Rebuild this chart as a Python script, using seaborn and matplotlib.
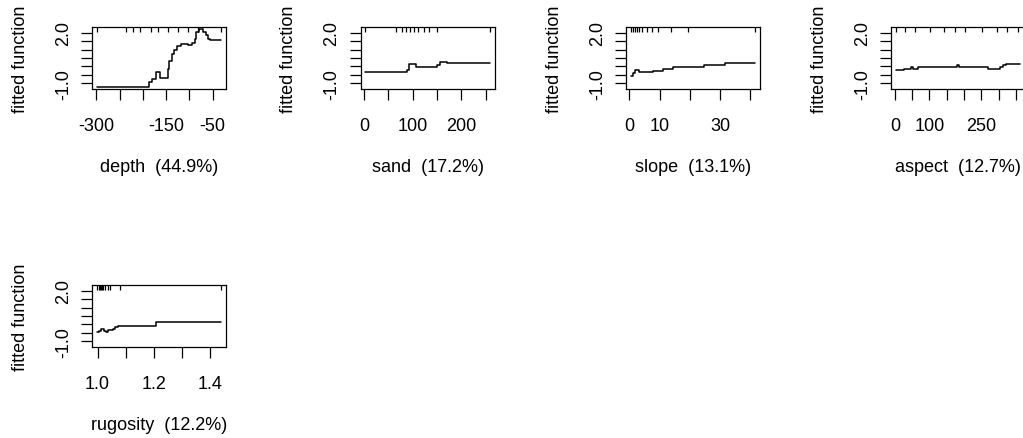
import matplotlib
matplotlib.use("Agg")
import matplotlib.pyplot as plt
import seaborn as sns
import pandas as pd

# ---------------- data ----------------
y_ticks = [-1.0, -0.5, 0.0, 0.5, 1.0, 1.5, 2.0]
y_tick_labels = ["-1.0", "", "", "", "", "", "2.0"]

depth_x = [-299, -188, -181, -172, -163, -147, -143, -138, -133, -127, -119,
           -110, -104, -95, -89, -85, -80, -70, -64, -59, -55, -32]
depth_y = [-1.2, -0.95, -0.75, -0.3, -0.7, -0.15, 0.35, 0.75, 0.95, 1.2, 1.3,
           1.35, 1.25, 1.4, 1.65, 2.05, 2.2, 2.05, 1.85, 1.65, 1.55, 1.55]
depth_rug = [-299, -236, -221, -207, -182, -168, -146, -125, -104, -82, -32]
depth_ticks = [-300, -250, -200, -150, -100, -50]
depth_labels = ["-300", "", "", "-150", "", "-50"]

sand_x = [3, 88, 92, 107, 149, 157, 170, 258]
sand_y = [-0.33, -0.2, 0.12, -0.02, 0.1, 0.28, 0.18, 0.18]
sand_rug = [3, 65, 79, 87, 95, 103, 110, 123, 134, 151, 258]
sand_ticks = [0, 50, 100, 150, 200, 250]
sand_labels = ["0", "", "100", "", "200", ""]

slope_x = [0.5, 1.2, 2.0, 3.0, 7.7, 11.0, 14.3, 24.7, 31.6, 41.6]
slope_y = [-0.57, -0.4, -0.21, -0.33, -0.27, -0.14, -0.02, 0.10, 0.18, 0.18]
slope_rug = [0.5, 1.1, 1.8, 2.6, 3.3, 4.2, 5.7, 7.6, 9.6, 13.7, 19.5, 41.6]
slope_ticks = [0, 10, 20, 30, 40]
slope_labels = ["0", "10", "", "30", ""]

aspect_x = [3, 25, 46, 53, 68, 180, 186, 268, 303, 312, 322, 362]
aspect_y = [-0.23, -0.14, -0.04, -0.14, -0.04, 0.06, -0.04, -0.14, -0.04, 0.06, 0.16, 0.16]
aspect_rug = [3, 30, 58, 101, 143, 174, 203, 251, 295, 324, 356]
aspect_ticks = [0, 50, 100, 150, 200, 250, 300, 350]
aspect_labels = ["0", "", "100", "", "", "250", "", ""]

rugo_x = [0.998, 1.006, 1.014, 1.022, 1.03, 1.038, 1.046, 1.055, 1.064, 1.072, 1.21, 1.44]
rugo_y = [-0.45, -0.39, -0.29, -0.36, -0.42, -0.3, -0.34, -0.25, -0.15, -0.09, 0.14, 0.14]
rugo_rug = [0.998, 1.004, 1.008, 1.012, 1.016, 1.02, 1.028, 1.036, 1.044, 1.08, 1.44]
rugo_ticks = [1.0, 1.1, 1.2, 1.3, 1.4]
rugo_labels = ["1.0", "", "1.2", "", "1.4"]

panels = [
    ("depth  (44.9%)", depth_x, depth_y, depth_rug, depth_ticks, depth_labels),
    ("sand  (17.2%)", sand_x, sand_y, sand_rug, sand_ticks, sand_labels),
    ("slope  (13.1%)", slope_x, slope_y, slope_rug, slope_ticks, slope_labels),
    ("aspect  (12.7%)", aspect_x, aspect_y, aspect_rug, aspect_ticks, aspect_labels),
    ("rugosity  (12.2%)", rugo_x, rugo_y, rugo_rug, rugo_ticks, rugo_labels),
]

# ---------------- style ----------------
sns.set_style("ticks")
plt.rcParams["font.family"] = ["Liberation Sans", "DejaVu Sans"]
plt.rcParams["axes.unicode_minus"] = False
FS = 13

W, H = 1023, 439
DPI = 100
fig = plt.figure(figsize=(W / DPI, H / DPI), dpi=DPI)
fig.patch.set_facecolor("white")

box_left = [92, 360.5, 626, 891]
box_top = [28, 286]
BW, BH = 134, 62

all_y = depth_y + sand_y + slope_y + aspect_y + rugo_y
ymin, ymax = min(all_y), max(all_y)
yext = 0.04 * (ymax - ymin)

px = 72.0 / DPI  # points per pixel

for i, (label, xs, ys, rug, ticks, tlabels) in enumerate(panels):
    r, c = divmod(i, 4)
    l = box_left[c]
    t = box_top[r]
    ax = fig.add_axes([l / W, 1 - (t + BH) / H, BW / W, BH / H])
    df = pd.DataFrame({"x": xs, "y": ys})
    sns.lineplot(data=df, x="x", y="y", ax=ax, color="black", lw=1.1,
                 estimator=None, drawstyle="steps-post")
    xmin, xmax = min(xs), max(xs)
    xext = 0.04 * (xmax - xmin)
    ax.set_xlim(xmin - xext, xmax + xext)
    ax.set_ylim(ymin - yext, ymax + yext)
    # rug of deciles along the top
    ax.vlines(rug, 1 - 4.5 / BH, 1, transform=ax.get_xaxis_transform(),
              color="black", lw=0.9)
    ax.set_xticks(ticks, tlabels)
    ax.set_yticks(y_ticks, y_tick_labels)
    ax.tick_params(axis="both", direction="out", length=11 * px, width=0.9,
                   colors="black", labelsize=FS)
    ax.tick_params(axis="x", pad=12)
    ax.tick_params(axis="y", pad=6.5, labelrotation=90)
    for lab in ax.get_yticklabels():
        lab.set_verticalalignment("center")
    for s in ax.spines.values():
        s.set_visible(True)
        s.set_color("black")
        s.set_linewidth(0.9)
    ax.set_xlabel(label, fontsize=FS, color="black")
    ax.set_ylabel("fitted function", fontsize=FS, color="black")
    ax.xaxis.set_label_coords(0.5, -1.11)
    ax.yaxis.set_label_coords(-0.472, 0.5)
    ax.set_facecolor("white")

fig.savefig("out.png", dpi=DPI, facecolor="white")
